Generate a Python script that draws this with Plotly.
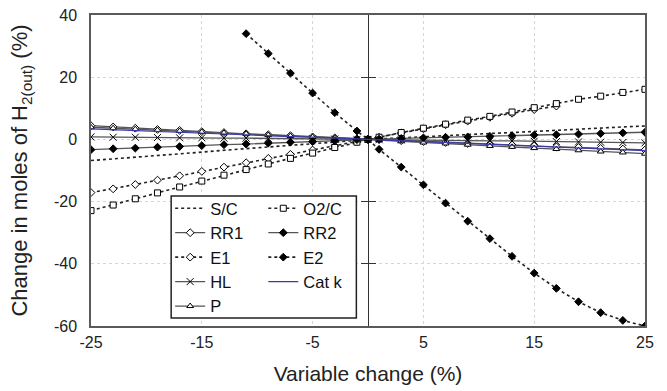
import plotly.graph_objects as go

# ---------------- data ----------------
x_vals = [-25, -23, -21, -19, -17, -15, -13, -11, -9, -7, -5, -3, -1, 0,
          1, 3, 5, 7, 9, 11, 13, 15, 17, 19, 21, 23, 25]

sc = [-6.8, -6.3, -5.7, -5.2, -4.6, -4.1, -3.5, -3.0, -2.4, -1.9, -1.4, -0.8, -0.3, 0,
      0.2, 0.5, 0.9, 1.2, 1.5, 1.9, 2.2, 2.6, 2.9, 3.3, 3.6, 4.0, 4.3]
o2c = [-22.9, -21.1, -19.1, -17.2, -15.3, -13.4, -11.5, -9.7, -7.9, -6.1, -4.4, -2.6, -0.9, 0,
       0.7, 2.2, 3.6, 4.9, 6.2, 7.4, 8.8, 10.2, 11.5, 12.9, 13.9, 15.1, 16.1]
rr1 = [4.4, 4.0, 3.6, 3.2, 2.9, 2.5, 2.2, 1.8, 1.5, 1.2, 0.8, 0.5, 0.2, 0,
       -0.1, -0.4, -0.7, -1.0, -1.3, -1.5, -1.8, -2.1, -2.4, -2.6, -2.9, -3.1, -3.4]
rr2 = [-3.3, -3.0, -2.8, -2.5, -2.3, -2.0, -1.7, -1.5, -1.2, -0.9, -0.7, -0.4, -0.1, 0,
       0.1, 0.3, 0.5, 0.7, 0.8, 1.0, 1.2, 1.4, 1.5, 1.7, 1.9, 2.1, 2.3]
e1_x = [-25, -23, -21, -19, -17, -15, -13, -11, -9, -7, -5, -3, -1, 0,
        1, 3, 5, 7, 9, 11, 13, 15, 17]
e1 = [-17.1, -15.9, -14.5, -13.1, -11.7, -10.3, -8.9, -7.5, -6.1, -4.8, -3.4, -2.1, -0.7, 0,
      0.7, 2.1, 3.4, 4.7, 5.9, 7.1, 8.4, 9.6, 10.7]
e2_x = [-11, -9, -7, -5, -3, -1, 0, 1, 3, 5, 7, 9, 11, 13, 15, 17, 19, 21, 23, 25]
e2 = [34.0, 27.6, 21.3, 14.9, 8.6, 2.7, 0, -3.2, -8.9, -14.6, -20.5, -26.3, -31.9,
      -37.6, -43.0, -47.9, -52.2, -55.7, -58.2, -60.0]
hl = [0.8, 0.7, 0.7, 0.6, 0.5, 0.5, 0.4, 0.4, 0.3, 0.2, 0.2, 0.1, 0.0, 0,
      -0.1, -0.1, -0.2, -0.3, -0.4, -0.5, -0.5, -0.6, -0.7, -0.8, -0.9, -1.0, -1.1]
catk = [3.4, 3.1, 2.8, 2.6, 2.3, 2.0, 1.8, 1.5, 1.2, 0.9, 0.7, 0.4, 0.1, 0,
        -0.1, -0.4, -0.7, -1.0, -1.3, -1.6, -1.9, -2.2, -2.4, -2.7, -3.0, -3.3, -3.6]
p = [3.9, 3.6, 3.3, 3.0, 2.7, 2.4, 2.1, 1.8, 1.4, 1.1, 0.8, 0.5, 0.2, 0,
     -0.2, -0.6, -1.0, -1.3, -1.7, -2.1, -2.4, -2.8, -3.1, -3.5, -3.9, -4.2, -4.6]

x_ticks = [-25, -15, -5, 5, 15, 25]
y_ticks = [-60, -40, -20, 0, 20, 40]
x_ticktext = [str(v) for v in x_ticks]
y_ticktext = [str(v) for v in y_ticks]

FONT = "Liberation Sans, Arial, sans-serif"
SOLID = "#555555"
DOT = "#222222"

fig = go.Figure()


def add(name, xs, ys, dash, color, symbol=None, fill="white", legend="legend",
        width=1.3, size=6):
    mode = "lines+markers" if symbol else "lines"
    marker = None
    if symbol:
        marker = dict(symbol=symbol, size=size, color=fill,
                      line=dict(color="black", width=1))
    fig.add_trace(go.Scatter(x=xs, y=ys, name=name, mode=mode,
                             line=dict(color=color, width=width, dash=dash),
                             marker=marker, legend=legend))


# column 1 of legend
add("S/C", x_vals, sc, "dot", DOT, legend="legend", width=1.6)
add("RR1", x_vals, rr1, "solid", SOLID, "diamond", legend="legend")
add("E1", e1_x, e1, "dot", DOT, "diamond", legend="legend", width=1.6)
add("HL", x_vals, hl, "solid", SOLID, "x-thin-open", fill="black", legend="legend", size=7)
add("P", x_vals, p, "solid", SOLID, "triangle-up", legend="legend")
# column 2 of legend
add("O2/C", x_vals, o2c, "dot", DOT, "square", legend="legend2", width=1.6)
add("RR2", x_vals, rr2, "solid", SOLID, "diamond", fill="black", legend="legend2")
add("E2", e2_x, e2, "dot", DOT, "diamond", fill="black", legend="legend2", width=1.6)
add("Cat k", x_vals, catk, "solid", "#3a3ab0", legend="legend2", width=1.2)

# helper axes carrying the crossing tick marks on the x = 0 line
for ax in ("y2", "y3"):
    fig.add_trace(go.Scatter(x=[0], y=[0], yaxis=ax, showlegend=False,
                             mode="markers", marker=dict(size=1, opacity=0),
                             hoverinfo="skip"))

GRID = dict(showgrid=True, gridcolor="#d6d6d6", griddash="3px,3px", gridwidth=1)

fig.update_layout(
    width=667, height=391,
    margin=dict(l=91, r=22, t=15, b=65, autoexpand=False),
    paper_bgcolor="white", plot_bgcolor="white",
    font=dict(family=FONT, size=16, color="#222222"),
    showlegend=True,
    xaxis=dict(range=[-25, 25], tickvals=x_ticks, ticktext=x_ticktext, ticks="",
               ticklabelstandoff=1, automargin=False, **GRID,
               zeroline=True, zerolinecolor="#333333", zerolinewidth=1,
               showline=True, linecolor="#5a5a5a", linewidth=1.5, mirror=True,
               title=dict(text="Variable change (%)", font=dict(size=21), standoff=16),
               tickfont=dict(size=16)),
    yaxis=dict(range=[-60, 40], tickvals=y_ticks, ticktext=y_ticktext, ticks="",
               ticklabelstandoff=9, automargin=False, **GRID,
               zeroline=False,
               showline=True, linecolor="#5a5a5a", linewidth=1.5, mirror=True,
               title=dict(text="Change in moles of H<sub>2(out)</sub> (%)",
                          font=dict(size=22), standoff=20),
               tickfont=dict(size=16)),
    yaxis2=dict(range=[-60, 40], tickvals=[-40, -20, 20], overlaying="y",
                anchor="free", position=0.5, side="left", automargin=False,
                showticklabels=False, ticks="outside", ticklen=7,
                tickcolor="#333333", tickwidth=1, showgrid=False, zeroline=False,
                showline=False),
    yaxis3=dict(range=[-60, 40], tickvals=[-40, -20, 20], overlaying="y",
                anchor="free", position=0.5, side="left", automargin=False,
                showticklabels=False, ticks="inside", ticklen=7,
                tickcolor="#333333", tickwidth=1, showgrid=False, zeroline=False,
                showline=False),
    legend=dict(x=0.1429, y=0.434, xanchor="left", yanchor="top",
                bgcolor="rgba(0,0,0,0)", borderwidth=0,
                font=dict(size=16.5, family=FONT, color="#111111"),
                traceorder="normal"),
    legend2=dict(x=0.311, y=0.434, xanchor="left", yanchor="top",
                 bgcolor="rgba(0,0,0,0)", borderwidth=0,
                 font=dict(size=16.5, family=FONT, color="#111111"),
                 traceorder="normal"),
    shapes=[dict(type="rect", xref="paper", yref="paper",
                 x0=0.1447, x1=0.479, y0=0.0257, y1=0.418,
                 fillcolor="white", line=dict(color="#222222", width=1.5),
                 layer="above")],
)

fig.write_html("out.html")
